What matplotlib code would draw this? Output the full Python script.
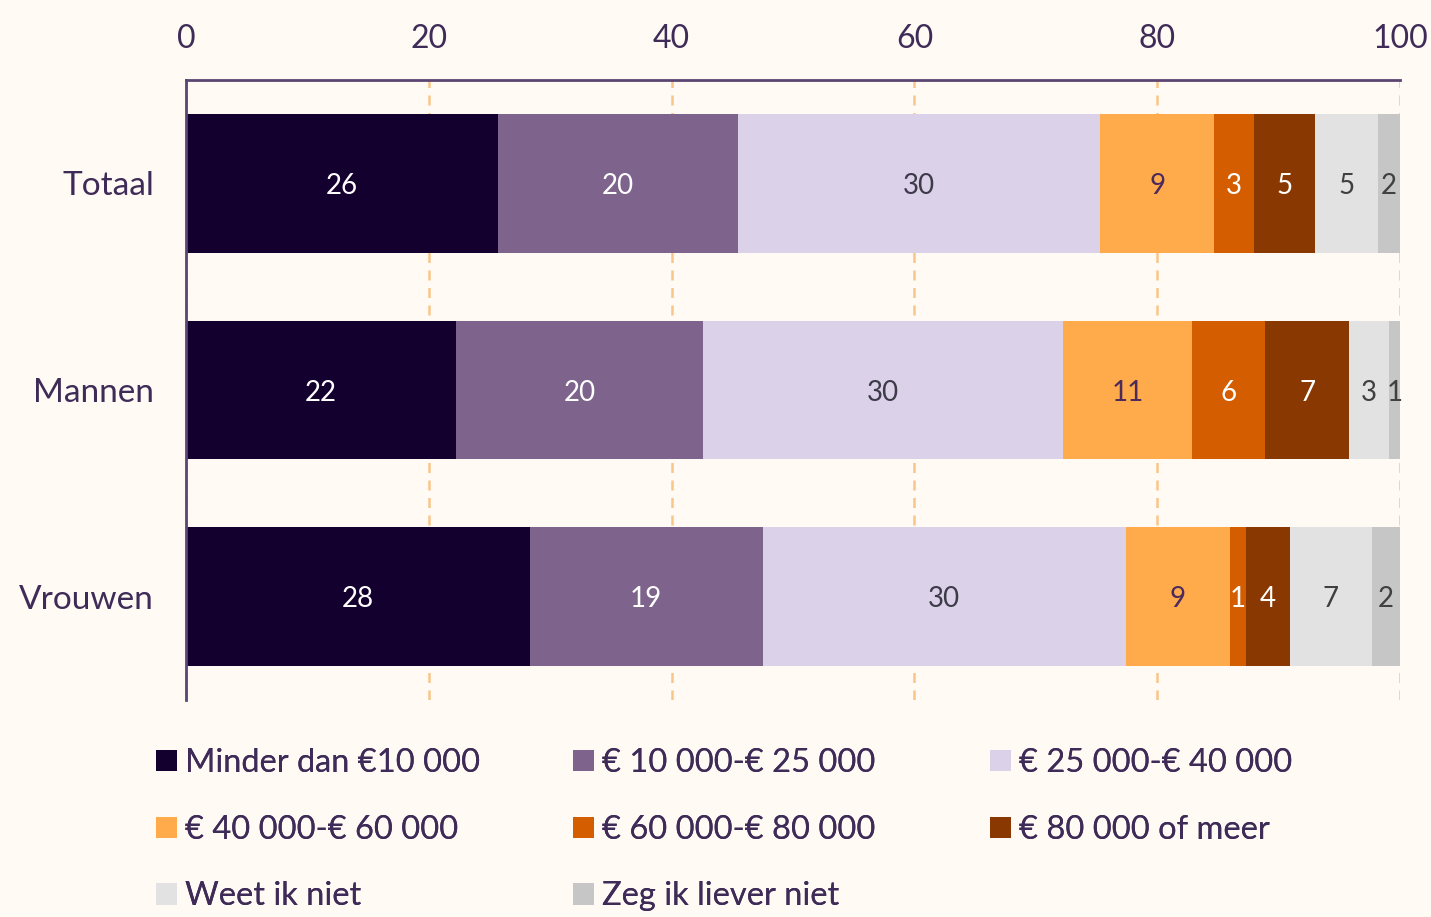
import matplotlib
matplotlib.use("Agg")
import matplotlib.pyplot as plt
from matplotlib.patches import Patch
import numpy as np

plt.rcParams['font.family'] = ['Lato', 'DejaVu Sans']

categories = ["Totaal", "Mannen", "Vrouwen"]
series_names = ["Minder dan €10 000", "€ 10 000-€ 25 000", "€ 25 000-€ 40 000",
                "€ 40 000-€ 60 000", "€ 60 000-€ 80 000", "€ 80 000 of meer",
                "Weet ik niet", "Zeg ik liever niet"]
values = [
    [25.7, 22.2, 28.3],
    [19.8, 20.4, 19.2],
    [29.8, 29.6, 29.9],
    [9.4, 10.7, 8.6],
    [3.3, 6.0, 1.3],
    [5.0, 6.9, 3.6],
    [5.2, 3.3, 6.8],
    [1.8, 0.9, 2.3],
]
colors = ["#14002e", "#7e638c", "#dbd1e8", "#ffaa4b", "#d45d00", "#883800", "#e2e2e2", "#c6c6c6"]
label_colors = ["white", "white", "#3d3b4a", "#4b2a5c", "white", "white", "#404040", "#404040"]
xticks = [0, 20, 40, 60, 80, 100]

bg = "#fffaf3"
txt = "#3f2b58"

fig = plt.figure(figsize=(14.31, 9.17), dpi=100, facecolor=bg)
ax = fig.add_axes([186/1431, 1-700/917, 1214/1431, 620/917])
ax.set_facecolor(bg)

y = np.arange(len(categories))
left = np.zeros(len(categories))
for i, (name, vals) in enumerate(zip(series_names, values)):
    vals = np.array(vals)
    bars = ax.barh(y, vals, left=left, height=0.67, color=colors[i], label=name, zorder=2)
    for b, v in zip(bars, vals):
        ax.text(b.get_x() + b.get_width()/2, b.get_y() + b.get_height()/2,
                f"{int(round(v))}", ha="center", va="center_baseline",
                color=label_colors[i], fontsize=20, zorder=3)
    left += vals

ax.set_xlim(0, 100)
ax.set_ylim(2.5, -0.5)
ax.set_yticks(y)
ax.set_yticklabels(categories, fontsize=24, color=txt)
ax.set_xticks(xticks)
ax.xaxis.tick_top()
ax.tick_params(axis='x', length=0, pad=19, labelsize=23, labelcolor=txt)
ax.tick_params(axis='y', length=0, pad=23)
ax.grid(axis='x', color="#f9c68a", linestyle=(0, (4, 3)), linewidth=1.8, zorder=1)
ax.set_axisbelow(True)

for s in ["right", "bottom"]:
    ax.spines[s].set_visible(False)
for s in ["top", "left"]:
    ax.spines[s].set_color("#5b4572")
    ax.spines[s].set_linewidth(2)

# legend laid out row by row in three columns
col_x = [127, 544, 961]
ncols = 3
for c in range(ncols):
    idx = list(range(c, len(series_names), ncols))
    handles = [Patch(facecolor=colors[k], edgecolor='none') for k in idx]
    labels = [series_names[k] for k in idx]
    leg = fig.legend(handles, labels, loc="upper left",
                     bbox_to_anchor=(col_x[c]/1431, 1-719/917),
                     ncol=1, frameon=False, fontsize=23.5, handlelength=0.62, handleheight=0.62,
                     handletextpad=0.25, labelspacing=1.12, labelcolor=txt)
    fig.add_artist(leg)

fig.savefig("out.png", dpi=100, facecolor=bg)
